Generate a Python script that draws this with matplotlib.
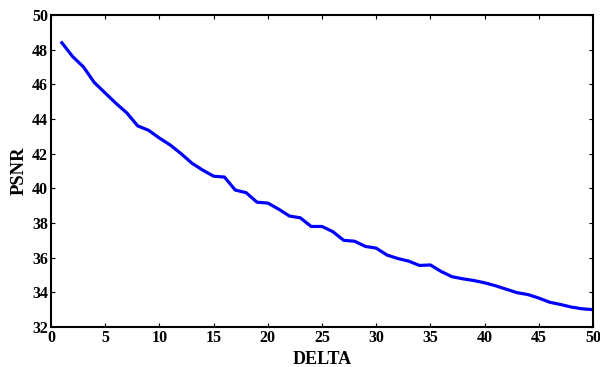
import matplotlib
matplotlib.use("Agg")
import matplotlib.pyplot as plt

delta = list(range(1, 51))
psnr = [48.4, 47.6, 47.0, 46.1, 45.5, 44.9, 44.35, 43.6, 43.35, 42.9,
        42.5, 42.0, 41.45, 41.05, 40.7, 40.65, 39.9, 39.75, 39.2, 39.15,
        38.8, 38.4, 38.3, 37.8, 37.8, 37.5, 37.0, 36.95, 36.65, 36.55,
        36.15, 35.95, 35.8, 35.55, 35.58, 35.2, 34.9, 34.78, 34.68, 34.55,
        34.38, 34.18, 33.98, 33.87, 33.67, 33.43, 33.3, 33.15, 33.05, 33.0]
xticks = [0, 5, 10, 15, 20, 25, 30, 35, 40, 45, 50]
yticks = [32, 34, 36, 38, 40, 42, 44, 46, 48, 50]

plt.rcParams['font.family'] = ['Liberation Serif', 'DejaVu Serif']
fig = plt.figure(figsize=(6, 3.67), dpi=100)
ax = fig.add_axes([51/600, 40/367, 542/600, 312/367])
ax.plot(delta, psnr, color='#0000ff', linewidth=2.3)
ax.set_xlim(0, 50)
ax.set_ylim(32, 50)
ax.set_xticks(xticks)
ax.set_yticks(yticks)
ax.tick_params(direction='in', top=True, right=True, length=3, width=0.8,
               labelsize=11.5, pad=2)
for lab in ax.get_xticklabels() + ax.get_yticklabels():
    lab.set_fontweight('bold')
for s in ax.spines.values():
    s.set_linewidth(1.5)
ax.set_xlabel('DELTA', fontsize=13, fontweight='bold', labelpad=4)
ax.set_ylabel('PSNR', fontsize=13.5, fontweight='bold', labelpad=3)
fig.savefig('out.png', dpi=100)
